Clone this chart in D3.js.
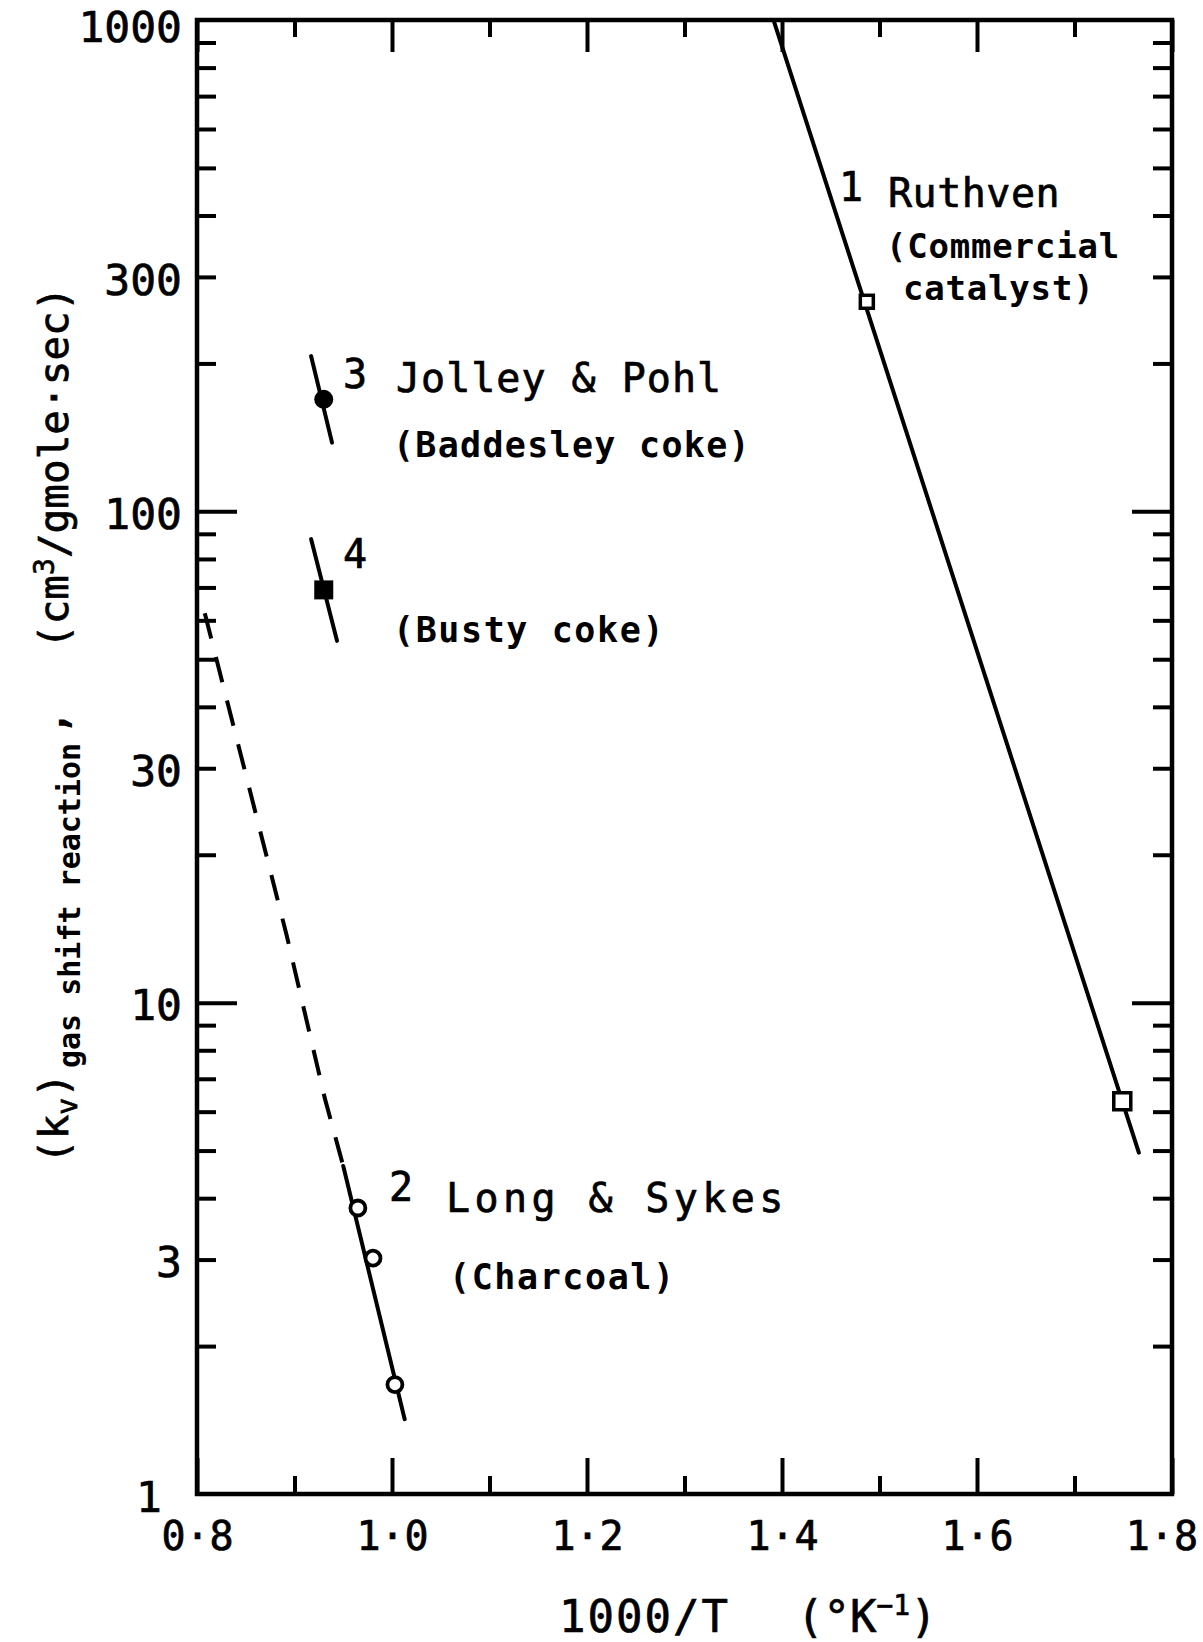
<!DOCTYPE html>
<html>
<head>
<meta charset="utf-8">
<script src="https://cdn.jsdelivr.net/npm/d3@7"></script>
<style>
  body { margin: 0; background: #fff; }
  svg { display: block; }
  text { font-family: "DejaVu Sans Mono", "Liberation Mono", monospace; fill: #000; }
</style>
</head>
<body>
<svg id="chart" width="1203" height="1642"></svg>
<script>
// Rate constant of the gas shift reaction against reciprocal temperature (Arrhenius plot)

// ---- axes ----
const xMajorTicks = [0.8, 1.0, 1.2, 1.4, 1.6, 1.8];
const xMajorLabels = ["0·8", "1·0", "1·2", "1·4", "1·6", "1·8"];
const xMinorTicks = [0.9, 1.1, 1.3, 1.5, 1.7];
const yLabelTicks = [1, 3, 10, 30, 100, 300, 1000];
const yLabels = ["1", "3", "10", "30", "100", "300", "1000"];
const yDecadeTicks = [10, 100];
const yMinorTicks = [2, 3, 4, 5, 6, 7, 8, 9, 20, 30, 40, 50, 60, 70, 80, 90,
                     200, 300, 400, 500, 600, 700, 800, 900];

// ---- 1  Ruthven (commercial catalyst) ----
const ruthvenLine = [[1.392, 990], [1.766, 4.95]];
const ruthvenPoints = [[1.487, 267], [1.749, 6.3]];

// ---- 2  Long & Sykes (charcoal): measured range solid, extrapolation dashed ----
const longSykesExtrapolated = [[0.808, 62], [0.849, 29.7], [0.892, 13.7], [0.931, 6.4], [0.950, 4.65]];
const longSykesLine = [[0.950, 4.65], [1.013, 1.42]];
const longSykesPoints = [[0.965, 3.82], [0.9805, 3.02], [1.003, 1.67]];

// ---- 3  Jolley & Pohl (Baddesley coke) ----
const jolleyLine = [[0.917, 207], [0.9385, 138]];
const jolleyPoints = [[0.930, 169]];

// ---- 4  Busty coke ----
const bustyLine = [[0.917, 87.8], [0.9436, 54.5]];
const bustyPoints = [[0.930, 69.2]];

// ---- marker styling ----
const ruthvenMarkerSize = [13, 17];

// ---- curve labels (page layout) ----
const curveLabels = [
  { text: "1", x: 851, y: 201, size: 40, anchor: "middle" },
  { text: "Ruthven", x: 888, y: 207, size: 40, ls: 0.5 },
  { text: "(Commercial", x: 886, y: 258, size: 34, bold: true, ls: 0.8 },
  { text: "catalyst)", x: 903, y: 300, size: 34, bold: true, ls: 0.8 },
  { text: "3", x: 343, y: 388, size: 40 },
  { text: "Jolley & Pohl", x: 396, y: 392, size: 40, ls: 1 },
  { text: "(Baddesley coke)", x: 393, y: 457, size: 35, bold: true, ls: 1.3 },
  { text: "4", x: 343, y: 568, size: 40 },
  { text: "(Busty coke)", x: 393, y: 642, size: 35, bold: true, ls: 1.6 },
  { text: "2", x: 389, y: 1201, size: 40 },
  { text: "Long & Sykes", x: 446, y: 1212, size: 40, ls: 4.4 },
  { text: "(Charcoal)", x: 449, y: 1289, size: 35, bold: true, ls: 1.6 }
];

// ---- drawing ----
const W = 1203, H = 1642;
const frame = { left: 197, right: 1172, top: 20, bottom: 1494 };
const svg = d3.select("#chart");

const x = d3.scaleLinear().domain([0.8, 1.8]).range([frame.left, frame.right]);
const y = d3.scaleLog().domain([1, 1000]).range([frame.bottom, frame.top]);

const TICK_W = 4;
const PEN = 0.7; // extra outline so the lettering has the weight of a lettering pen

function styleAxis(g, fontSize) {
  g.select(".domain").remove();
  g.selectAll(".tick line").attr("stroke", "#000").attr("stroke-width", TICK_W);
  g.attr("font-family", null).attr("font-size", fontSize || null);
  g.selectAll(".tick text").attr("fill", "#000")
    .attr("stroke", "#000").attr("stroke-width", PEN);
}

// bottom axis: labelled majors and short minors, all pointing inward
const xLabelAxis = svg.append("g")
  .attr("transform", `translate(0,${frame.bottom})`)
  .call(d3.axisBottom(x).tickValues(xMajorTicks)
    .tickFormat((d, i) => xMajorLabels[i]).tickSize(-36).tickPadding(28))
  .call(g => styleAxis(g, 40));
svg.append("g")
  .attr("transform", `translate(0,${frame.bottom})`)
  .call(d3.axisBottom(x).tickValues(xMinorTicks).tickFormat("").tickSize(-18))
  .call(g => styleAxis(g));

// keep the end labels inside the page
xLabelAxis.selectAll(".tick text").each(function () {
  const r = this.getBoundingClientRect();
  if (r.right > W - 5) d3.select(this).attr("dx", -(r.right - (W - 5)));
});

// top axis
svg.append("g")
  .attr("transform", `translate(0,${frame.top})`)
  .call(d3.axisTop(x).tickValues(xMajorTicks).tickFormat("").tickSize(-32))
  .call(g => styleAxis(g));
svg.append("g")
  .attr("transform", `translate(0,${frame.top})`)
  .call(d3.axisTop(x).tickValues(xMinorTicks).tickFormat("").tickSize(-17))
  .call(g => styleAxis(g));

// left axis: labels, decade ticks, minor ticks
svg.append("g")
  .attr("transform", `translate(${frame.left},0)`)
  .call(d3.axisLeft(y).tickValues(yLabelTicks)
    .tickFormat((d, i) => yLabels[i]).tickSize(0).tickPadding(15))
  .call(g => styleAxis(g, 43))
  .call(g => g.selectAll(".tick text").attr("dy", "0.40em"))
  // the corner labels step clear of the page edge and of the 0·8 below
  .call(g => g.selectAll(".tick text").filter(d => d === 1).attr("dx", -20))
  .call(g => g.selectAll(".tick text").filter(d => d === 1000).attr("dy", "0.49em"));
svg.append("g")
  .attr("transform", `translate(${frame.left},0)`)
  .call(d3.axisLeft(y).tickValues(yDecadeTicks).tickFormat("").tickSize(-40))
  .call(g => styleAxis(g));
svg.append("g")
  .attr("transform", `translate(${frame.left},0)`)
  .call(d3.axisLeft(y).tickValues(yMinorTicks).tickFormat("").tickSize(-19))
  .call(g => styleAxis(g));

// right axis
svg.append("g")
  .attr("transform", `translate(${frame.right},0)`)
  .call(d3.axisRight(y).tickValues(yDecadeTicks).tickFormat("").tickSize(-40))
  .call(g => styleAxis(g));
svg.append("g")
  .attr("transform", `translate(${frame.right},0)`)
  .call(d3.axisRight(y).tickValues(yMinorTicks).tickFormat("").tickSize(-19))
  .call(g => styleAxis(g));

// frame
svg.append("rect")
  .attr("x", frame.left).attr("y", frame.top)
  .attr("width", frame.right - frame.left).attr("height", frame.bottom - frame.top)
  .attr("fill", "none").attr("stroke", "#000").attr("stroke-width", 4.5);

// curves
const line = d3.line().x(d => x(d[0])).y(d => y(d[1]));
const curves = svg.append("g")
  .attr("fill", "none").attr("stroke", "#000").attr("stroke-width", 4)
  .attr("stroke-linecap", "round");

curves.append("path").attr("d", line(ruthvenLine));
curves.append("path").attr("d", line(longSykesLine));
curves.append("path").attr("d", line(longSykesExtrapolated))
  .attr("stroke-dasharray", "26 19").attr("stroke-linecap", "butt");
curves.append("path").attr("d", line(jolleyLine));
curves.append("path").attr("d", line(bustyLine));

// markers
const marks = svg.append("g");
marks.selectAll(".ruthven").data(ruthvenPoints).join("rect")
  .attr("x", (d, i) => x(d[0]) - ruthvenMarkerSize[i] / 2)
  .attr("y", (d, i) => y(d[1]) - ruthvenMarkerSize[i] / 2)
  .attr("width", (d, i) => ruthvenMarkerSize[i])
  .attr("height", (d, i) => ruthvenMarkerSize[i])
  .attr("fill", "#fff").attr("stroke", "#000").attr("stroke-width", 3.5);

marks.selectAll(".longsykes").data(longSykesPoints).join("circle")
  .attr("cx", d => x(d[0])).attr("cy", d => y(d[1])).attr("r", 7.5)
  .attr("fill", "#fff").attr("stroke", "#000").attr("stroke-width", 3.8);

marks.selectAll(".jolley").data(jolleyPoints).join("circle")
  .attr("cx", d => x(d[0])).attr("cy", d => y(d[1])).attr("r", 9.5)
  .attr("fill", "#000");

const solidSquare = 19;
marks.selectAll(".busty").data(bustyPoints).join("rect")
  .attr("x", d => x(d[0]) - solidSquare / 2).attr("y", d => y(d[1]) - solidSquare / 2)
  .attr("width", solidSquare).attr("height", solidSquare)
  .attr("fill", "#000");

// curve labels
svg.append("g").selectAll("text").data(curveLabels).join("text")
  .attr("x", d => d.x).attr("y", d => d.y)
  .attr("font-size", d => d.size)
  .attr("font-weight", d => d.bold ? "bold" : "normal")
  .attr("letter-spacing", d => d.ls || 0)
  .attr("text-anchor", d => d.anchor || "start")
  .attr("stroke", d => d.bold ? null : "#000")
  .attr("stroke-width", d => d.bold ? null : PEN)
  .text(d => d.text);

// x-axis title
const xTitle = svg.append("text")
  .attr("x", 559).attr("y", 1632)
  .attr("font-size", 44).attr("stroke", "#000").attr("stroke-width", PEN);
xTitle.append("tspan").attr("letter-spacing", 2).text("1000/T");
xTitle.append("tspan").attr("x", 797).text("(°K");
xTitle.append("tspan").attr("font-size", 28).attr("dy", -17).text("−1");
xTitle.append("tspan").attr("dy", 17).text(")");

// y-axis title, read bottom to top
function rotated(px, py) {
  return svg.append("g").attr("transform", `translate(${px},${py}) rotate(-90)`)
    .append("text").attr("x", 0).attr("y", 0);
}
const t1 = rotated(68, 1164).attr("font-size", 41)
  .attr("stroke", "#000").attr("stroke-width", PEN);
t1.append("tspan").text("(k");
t1.append("tspan").attr("font-size", 28).attr("dy", 9).text("v");
t1.append("tspan").attr("dy", -9).text(")");

rotated(80, 1068).attr("font-size", 30).attr("font-weight", "bold").text("gas shift reaction");
rotated(66, 735).attr("font-size", 41).attr("font-weight", "bold").text(",");

const t4 = rotated(68, 649).attr("font-size", 41)
  .attr("stroke", "#000").attr("stroke-width", PEN);
t4.append("tspan").text("(cm");
t4.append("tspan").attr("font-size", 28).attr("dy", -14).text("3");
t4.append("tspan").attr("dy", 14).text("/gmole·sec)");
</script>
</body>
</html>
